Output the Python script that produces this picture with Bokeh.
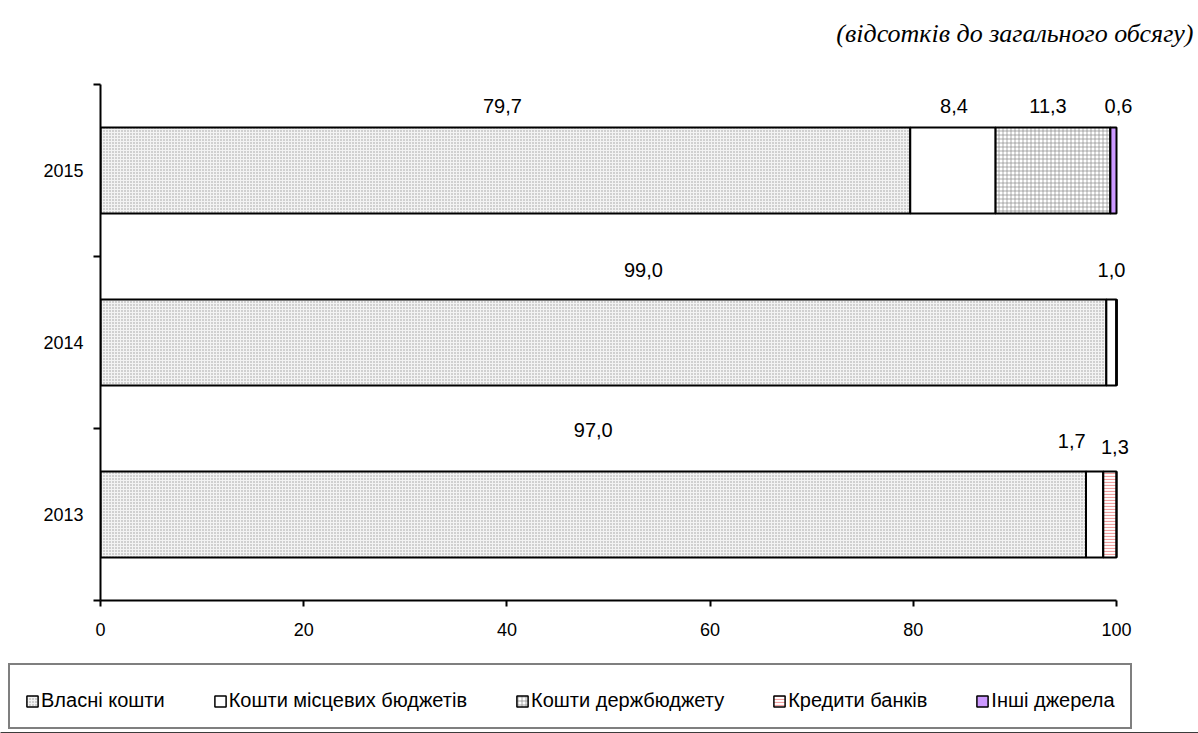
from bokeh.plotting import figure
from bokeh.layouts import column, row
from bokeh.models import (ColumnDataSource, Range1d, FixedTicker, Legend,
                          LegendItem, Label)
from bokeh.embed import file_html
from bokeh.resources import INLINE
from bokeh.core.properties import value

# Structure of capital investment by source of funding, per cent of total
years = ["2013", "2014", "2015"]
own_funds = [97.0, 99.0, 79.7]
local_budgets = [1.7, 1.0, 8.4]
state_budget = [0.0, 0.0, 11.3]
bank_credits = [1.3, 0.0, 0.0]
other_sources = [0.0, 0.0, 0.6]

series_names = ["Власні кошти", "Кошти місцевих бюджетів", "Кошти держбюджету",
                "Кредити банків", "Інші джерела"]
series_values = [own_funds, local_budgets, state_budget, bank_credits, other_sources]
x_ticks = [0, 20, 40, 60, 80, 100]
subtitle = "(відсотків до загального обсягу)"

FONT = "Liberation Sans"

# fill styles for each source
styles = [
    dict(fill_color="#f3f3f3", hatch_pattern="dot", hatch_color="#9a9a9a",
         hatch_scale=3, hatch_weight=0.6),
    dict(fill_color="white"),
    dict(fill_color="white", hatch_pattern="cross", hatch_color="#8a8a8a",
         hatch_scale=4, hatch_weight=0.7),
    dict(fill_color="white", hatch_pattern="horizontal_line", hatch_color="#f2a0a0",
         hatch_scale=3, hatch_weight=1.2),
    dict(fill_color="#cc99ff"),
]

# per-label screen offsets: (dx, distance above bar top)
label_nudge = {
    (2, 0): (-3, 22), (2, 1): (1, 22), (2, 2): (-5, 22), (2, 4): (5, 22),
    (1, 0): (40, 30), (1, 1): (0, 30),
    (0, 0): (0, 42), (0, 1): (-23, 31), (0, 3): (5, 25),
}

# page geometry: heading strip, chart, legend strip stacked vertically.
# The axis spans 0..100 over 1016 px; the frame runs a bit further right
# so value labels near 100 are not clipped.
W = 1198
HEAD_H = 60
MAIN_H = 590
LEGEND_H = 83
FRAME_TOP = 84
FRAME_BOTTOM = 600
AXIS_PX = 1016
FRAME_PX = 1050
x_end = 100 * FRAME_PX / AXIS_PX


def blank_strip(height):
    f = figure(width=W, height=height, output_backend="svg", toolbar_location=None,
               x_axis_type=None, y_axis_type=None, x_range=Range1d(0, 1),
               y_range=Range1d(0, 1), min_border=0)
    f.outline_line_color = None
    f.xgrid.grid_line_color = None
    f.ygrid.grid_line_color = None
    f.border_fill_color = "white"
    f.background_fill_color = "white"
    return f


# heading
head = blank_strip(HEAD_H)
head.add_layout(Label(x=W - 5, y=HEAD_H - 33, x_units="screen", y_units="screen",
                      text=subtitle, text_font="Liberation Serif",
                      text_font_style="italic", text_font_size="26px",
                      text_color="black", text_align="right",
                      text_baseline="middle"))

# chart
ypos = [i + 0.5 for i in range(len(years))]
bar_h = 0.5

p = figure(width=W, height=MAIN_H, output_backend="svg", toolbar_location=None,
           x_range=Range1d(0, x_end), y_range=Range1d(0, len(years)),
           min_border_left=100, min_border_right=W - 100 - FRAME_PX,
           min_border_top=FRAME_TOP - HEAD_H,
           min_border_bottom=HEAD_H + MAIN_H - FRAME_BOTTOM)
p.outline_line_color = None
p.xgrid.grid_line_color = None
p.ygrid.grid_line_color = None
p.background_fill_color = "white"
p.border_fill_color = "white"

lefts = [0.0] * len(years)
label_x, label_y, label_t, label_dx, label_dy = [], [], [], [], []
for si, (name, vals) in enumerate(zip(series_names, series_values)):
    rights = [l + v for l, v in zip(lefts, vals)]
    src = ColumnDataSource(dict(y=ypos, left=lefts, right=rights))
    p.hbar(y="y", left="left", right="right", height=bar_h, source=src,
           line_color="black", line_width=2, **styles[si])
    for yi, v in enumerate(vals):
        if v > 0:
            dx, dy = label_nudge.get((yi, si), (0, 22))
            label_x.append(lefts[yi] + v / 2)
            label_y.append(ypos[yi] + bar_h / 2)
            label_t.append(f"{v:.1f}".replace(".", ","))
            label_dx.append(dx)
            label_dy.append(-dy)
    lefts = rights

lsrc = ColumnDataSource(dict(x=label_x, y=label_y, t=label_t, dx=label_dx, dy=label_dy))
p.text(x="x", y="y", text="t", x_offset="dx", y_offset="dy", source=lsrc,
       text_font=value(FONT), text_font_size="20px", text_color="black",
       text_align="center", text_baseline="middle")

# axes
for ax in (p.xaxis[0], p.yaxis[0]):
    ax.axis_line_color = "black"
    ax.axis_line_width = 2
    ax.major_label_text_font = FONT
    ax.major_label_text_font_size = "18px"
    ax.major_label_text_color = "black"

p.xaxis.ticker = FixedTicker(ticks=x_ticks, minor_ticks=[])
p.xaxis.bounds = (0, 100)
p.xaxis.major_tick_line_color = "black"
p.xaxis.major_tick_line_width = 2
p.xaxis.major_tick_out = 6
p.xaxis.major_tick_in = 0
p.xaxis.minor_tick_line_color = None
p.xaxis.major_label_standoff = 16

# year labels sit at band centres, tick marks at band boundaries
p.yaxis.ticker = FixedTicker(ticks=ypos, minor_ticks=list(range(len(years) + 1)))
p.yaxis.major_label_overrides = {y: lab for y, lab in zip(ypos, years)}
p.yaxis.major_tick_line_color = None
p.yaxis.major_tick_out = 0
p.yaxis.major_tick_in = 0
p.yaxis.minor_tick_line_color = "black"
p.yaxis.minor_tick_line_width = 2
p.yaxis.minor_tick_out = 7
p.yaxis.minor_tick_in = 0
p.yaxis.major_label_standoff = 10
p.yaxis.major_label_orientation = "horizontal"

# legend strip under the chart; its swatches reuse the bar styles and are
# parked outside the visible range
lg = blank_strip(LEGEND_H)
swatches = []
for si in range(len(series_names)):
    r = lg.hbar(y=[-5], left=[0], right=[1], height=0.5, line_color="black",
                line_width=1.5, **styles[si])
    swatches.append(r)

legend = Legend(items=[LegendItem(label=n, renderers=[r])
                       for n, r in zip(series_names, swatches)],
                orientation="horizontal", location=(8, 4),
                title=" ", title_text_font_size="8px", title_standoff=0,
                border_line_color="black", border_line_width=2,
                background_fill_color="white", background_fill_alpha=1,
                padding=15, spacing=48, margin=0, label_standoff=2,
                glyph_width=14, glyph_height=14,
                label_text_font=FONT, label_text_font_size="20px",
                label_text_color="black")
lg.add_layout(legend, "center")

page = column(row(head), p, row(lg), spacing=0)
open("out.html", "w").write(file_html(page, INLINE))
